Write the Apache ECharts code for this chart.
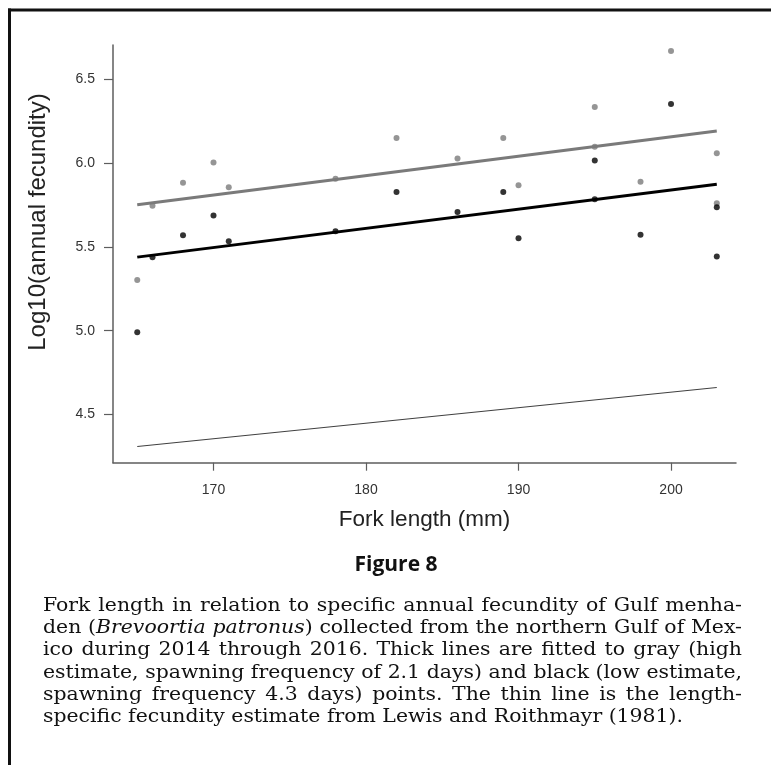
<!DOCTYPE html>
<html><head><meta charset="utf-8">
<script src="https://cdn.jsdelivr.net/npm/echarts@6/dist/echarts.min.js"></script>
<style>html,body{margin:0;padding:0;background:#fff}#c{width:771px;height:765px}</style>
</head><body><div id="c"></div>
<script>
// ---- data ----
const forkLengths = [165, 166, 168, 170, 171, 178, 182, 186, 189, 190, 195, 195, 198, 200, 203, 203];
const grayPoints  = [5.303, 5.745, 5.883, 6.003, 5.856, 5.907, 6.150, 6.027, 6.150, 5.868, 6.335, 6.098, 5.889, 6.669, 6.059, 5.761];
const blackPoints = [4.991, 5.439, 5.570, 5.687, 5.534, 5.594, 5.828, 5.709, 5.828, 5.552, 6.015, 5.784, 5.573, 6.353, 5.737, 5.442];
const fitLengths = [165, 203];
const grayFit  = [5.752, 6.192];
const blackFit = [5.439, 5.874];
const lewisFit = [4.309, 4.661];
const xTicks = [170, 180, 190, 200];
const yTicks = [4.5, 5.0, 5.5, 6.0, 6.5];
const xTitle = 'Fork length (mm)';
const yTitle = 'Log10(annual fecundity)';
const figTitle = 'Figure 8';
const captionLines = [
  'Fork length in relation to specific annual fecundity of Gulf menha-',
  'den (Brevoortia patronus) collected from the northern Gulf of Mex-',
  'ico during 2014 through 2016. Thick lines are fitted to gray (high',
  'estimate, spawning frequency of 2.1 days) and black (low estimate,',
  'spawning frequency 4.3 days) points. The thin line is the length-',
  'specific fecundity estimate from Lewis and Roithmayr (1981).'
];
const italicWords = ['Brevoortia', 'patronus'];

// ---- helpers ----
const zip = (a, b) => a.map((v, i) => [v, b[i]]);
const sans = '"Liberation Sans", Arial, sans-serif';
const capFont = '"DejaVu Serif", serif';
const capSize = 18.5;
const mctx = document.createElement('canvas').getContext('2d');
function segW(t, it) { mctx.font = (it ? 'italic ' : '') + capSize + 'px ' + capFont; return mctx.measureText(t).width; }
function splitWord(tok) {
  for (const iw of italicWords) {
    const k = tok.indexOf(iw);
    if (k >= 0) {
      return [[tok.slice(0, k), false], [iw, true], [tok.slice(k + iw.length), false]].filter(s => s[0].length);
    }
  }
  return [[tok, false]];
}
function wordW(w) { return w.reduce((s, g) => s + segW(g[0], g[1]), 0); }

const capLeft = 43, capRight = 742, lastLineRight = 683;
const lineY0 = 605.7, lineStep = 22.35;
const parsed = captionLines.map(l => l.split(' ').map(splitWord));
const spaceW = segW(' ', false);
const lastWords = parsed[parsed.length - 1];
const natLast = lastWords.reduce((s, w) => s + wordW(w), 0) + spaceW * (lastWords.length - 1);
const sx = (lastLineRight - capLeft) / natLast;

const graphics = [];
// frame (top & left visible)
graphics.push({ type: 'line', shape: { x1: 9.5, y1: 8.5, x2: 9.5, y2: 765 }, style: { stroke: '#111', lineWidth: 3 } });
graphics.push({ type: 'line', shape: { x1: 8, y1: 10, x2: 771, y2: 10 }, style: { stroke: '#111', lineWidth: 3 } });
// y title
graphics.push({ type: 'text', x: 38, y: 222, rotation: Math.PI / 2,
  style: { text: yTitle, fontSize: 24, fontFamily: sans, fill: '#222', align: 'center', verticalAlign: 'middle' } });
// figure title
graphics.push({ type: 'text', x: 396, y: 565,
  style: { text: figTitle, fontSize: 21, fontWeight: 'bold', fontFamily: '"Open Sans", sans-serif', fill: '#111', align: 'center', verticalAlign: 'middle' } });
// caption, justified
parsed.forEach((words, i) => {
  const y = lineY0 + i * lineStep;
  const widths = words.map(w => wordW(w) * sx);
  const total = widths.reduce((a, b) => a + b, 0);
  const isLast = i === parsed.length - 1;
  const gap = isLast ? spaceW * sx : (capRight - capLeft - total) / (words.length - 1);
  let x = capLeft;
  words.forEach((w, j) => {
    let px = x;
    w.forEach(seg => {
      graphics.push({ type: 'text', x: px, y: y, scaleX: sx,
        style: { text: seg[0], fontSize: capSize, fontFamily: capFont, fontStyle: seg[1] ? 'italic' : 'normal',
          fill: '#111', align: 'left', verticalAlign: 'middle' } });
      px += segW(seg[0], seg[1]) * sx;
    });
    x += widths[j] + gap;
  });
});

const axisCol = '#5e5e5e';
const chart = echarts.init(document.getElementById('c'), null, { renderer: 'canvas' });
chart.setOption({
  animation: false,
  backgroundColor: '#fff',
  grid: { left: 113, right: 35, top: 45, bottom: 302.3, containLabel: false },
  xAxis: {
    type: 'value', min: 163.41, max: 204.26,
    name: xTitle, nameLocation: 'middle', nameGap: 46,
    nameTextStyle: { fontSize: 22.5, fontFamily: sans, color: '#222' },
    axisLine: { show: true, onZero: false, lineStyle: { color: axisCol, width: 1.5 } },
    axisTick: { show: true, length: 8, customValues: xTicks, lineStyle: { color: axisCol, width: 1.2 } },
    axisLabel: { customValues: xTicks, margin: 20, fontSize: 14, fontFamily: sans, color: '#333' },
    splitLine: { show: false }
  },
  yAxis: {
    type: 'value', min: 4.2124, max: 6.7047,
    axisLine: { show: true, onZero: false, lineStyle: { color: axisCol, width: 1.5 } },
    axisTick: { show: true, length: 9, customValues: yTicks, lineStyle: { color: axisCol, width: 1.2 } },
    axisLabel: { customValues: yTicks, margin: 18, fontSize: 14, fontFamily: sans, color: '#333',
      formatter: v => Number(v).toFixed(1) },
    splitLine: { show: false }
  },
  series: [
    { type: 'line', data: zip(fitLengths, lewisFit), symbol: 'none', silent: true,
      lineStyle: { color: '#404040', width: 1.2 } },
    { type: 'line', data: zip(fitLengths, grayFit), symbol: 'none', silent: true,
      lineStyle: { color: '#7a7a7a', width: 3 } },
    { type: 'line', data: zip(fitLengths, blackFit), symbol: 'none', silent: true,
      lineStyle: { color: '#000', width: 3 } },
    { type: 'scatter', data: zip(forkLengths, grayPoints), symbolSize: 6, silent: true,
      itemStyle: { color: '#7a7a7a' } },
    { type: 'scatter', data: zip(forkLengths, blackPoints), symbolSize: 6, silent: true,
      itemStyle: { color: '#000' } }
  ],
  graphic: graphics
});
</script>
</body></html>
